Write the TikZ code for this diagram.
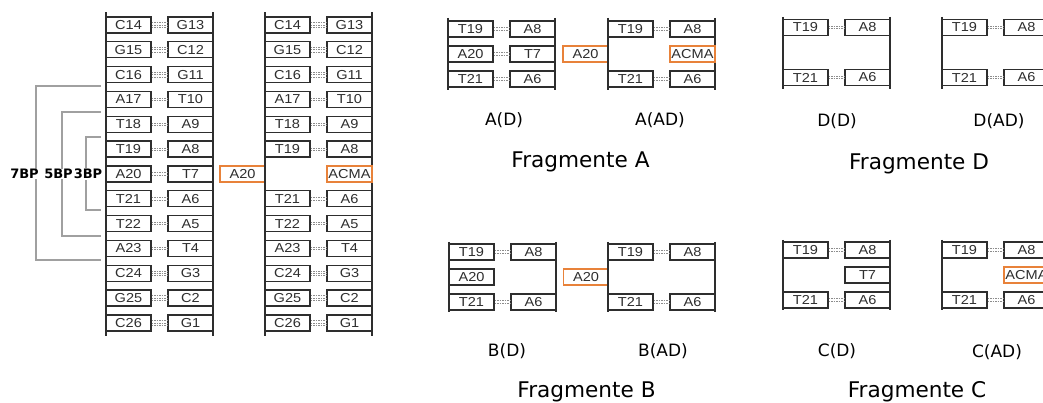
\documentclass[tikz,border=0pt]{standalone}
\usepackage{fontspec}
\setmainfont{DejaVu Sans}
\newfontfamily\basefont[FakeStretch=1.12]{Liberation Sans}

\definecolor{ink}{HTML}{2E2E2E}
\definecolor{hbond}{HTML}{8C8C8C}
\definecolor{acma}{HTML}{E8823A}
\definecolor{bracket}{HTML}{A0A0A0}

\tikzset{
  base/.style={draw=ink, line width=1.4pt, minimum width=45pt, minimum height=16pt,
    inner sep=0pt, text=ink, font=\basefont\fontsize{13}{15}\selectfont},
  modbase/.style={base, draw=acma, line width=1.5pt},
  hb/.style={draw=hbond, line width=0.7pt, dash pattern=on 1.5pt off 1pt},
  backbone/.style={draw=ink, line width=1.4pt},
  brk/.style={draw=bracket, line width=1.1pt},
  bplabel/.style={fill=white, inner sep=0.6pt, text=black, font=\bfseries\fontsize{13}{15}\selectfont},
  sublabel/.style={anchor=base, inner sep=0pt, text=black, font=\fontsize{17}{19}\selectfont},
  fraglabel/.style={anchor=base, inner sep=0pt, text=black, font=\fontsize{21.6}{24}\selectfont},
}

% A-T pair: name, backbone x, row y, left base, right base (two H-bonds)
\newcommand\pairAT[5]{%
  \node[base] (#1l) at ({#2+22.5},#3) {#4};
  \node[base] (#1r) at ({#2+84.5},#3) {#5};
  \draw[hb] ([yshift=1.2pt]#1l.east) -- ([yshift=1.2pt]#1r.west);
  \draw[hb] ([yshift=-1.2pt]#1l.east) -- ([yshift=-1.2pt]#1r.west);}
% C-G pair: three H-bonds
\newcommand\pairCG[5]{%
  \node[base] (#1l) at ({#2+22.5},#3) {#4};
  \node[base] (#1r) at ({#2+84.5},#3) {#5};
  \draw[hb] ([yshift=2.4pt]#1l.east) -- ([yshift=2.4pt]#1r.west);
  \draw[hb] (#1l.east) -- (#1r.west);
  \draw[hb] ([yshift=-2.4pt]#1l.east) -- ([yshift=-2.4pt]#1r.west);}
% two backbone strands: x, top, bottom
\newcommand\strands[3]{%
  \draw[backbone] (#1,#2) -- (#1,#3);
  \draw[backbone] ({#1+107},#2) -- ({#1+107},#3);}

\begin{document}
\begin{tikzpicture}[x=1pt,y=-1pt]
\path[use as bounding box, fill=white] (0,0) rectangle (1043,403);

% ---------- full duplex, undamaged ----------
\strands{106}{12.5}{335.5}
\pairCG{a14}{106}{25}{C14}{G13}
\pairCG{a15}{106}{49.8}{G15}{C12}
\pairCG{a16}{106}{74.7}{C16}{G11}
\pairAT{a17}{106}{99.5}{A17}{T10}
\pairAT{a18}{106}{124.3}{T18}{A9}
\pairAT{a19}{106}{149.2}{T19}{A8}
\pairAT{a20}{106}{174}{A20}{T7}
\pairAT{a21}{106}{198.8}{T21}{A6}
\pairAT{a22}{106}{223.6}{T22}{A5}
\pairAT{a23}{106}{248.5}{A23}{T4}
\pairCG{a24}{106}{273.3}{C24}{G3}
\pairCG{a25}{106}{298.1}{G25}{C2}
\pairCG{a26}{106}{323}{C26}{G1}

% removed base
\node[modbase] (mA20) at (242.5,174) {A20};

% ---------- full duplex with abasic site ----------
\strands{265}{12.5}{335.5}
\pairCG{b14}{265}{25}{C14}{G13}
\pairCG{b15}{265}{49.8}{G15}{C12}
\pairCG{b16}{265}{74.7}{C16}{G11}
\pairAT{b17}{265}{99.5}{A17}{T10}
\pairAT{b18}{265}{124.3}{T18}{A9}
\pairAT{b19}{265}{149.2}{T19}{A8}
\node[modbase] (bACMA) at (349.5,174) {ACMA};
\pairAT{b21}{265}{198.8}{T21}{A6}
\pairAT{b22}{265}{223.6}{T22}{A5}
\pairAT{b23}{265}{248.5}{A23}{T4}
\pairCG{b24}{265}{273.3}{C24}{G3}
\pairCG{b25}{265}{298.1}{G25}{C2}
\pairCG{b26}{265}{323}{C26}{G1}

% ---------- 3/5/7 bp brackets ----------
\coordinate (k7t) at (101,86);  \coordinate (k7b) at (101,260);
\coordinate (k5t) at (101,112); \coordinate (k5b) at (101,236);
\coordinate (k3t) at (101,137); \coordinate (k3b) at (101,210);
\draw[brk] (k7t) -- (36,86) -- (36,260) -- (k7b);
\draw[brk] (k5t) -- (62,112) -- (62,236) -- (k5b);
\draw[brk] (k3t) -- (86,137) -- (86,210) -- (k3b);
\node[bplabel] (l7) at (24.5,174) {7BP};
\node[bplabel] (l5) at (58.5,174) {5BP};
\node[bplabel] (l3) at (88,174) {3BP};

% ---------- Fragment A ----------
\strands{448}{18}{90}
\pairAT{fa19}{448}{29}{T19}{A8}
\pairAT{fa20}{448}{54}{A20}{T7}
\pairAT{fa21}{448}{79}{T21}{A6}
\node[modbase] (faA20) at (585.5,54) {A20};
\strands{608}{18}{90}
\pairAT{fb19}{608}{29}{T19}{A8}
\node[modbase] (fbACMA) at (692.5,54) {ACMA};
\pairAT{fb21}{608}{79}{T21}{A6}
\node[sublabel] (tAD) at (504,126) {A(D)};
\node[sublabel] (tAAD) at (660,126) {A(AD)};
\node[fraglabel] (tA) at (580.5,168) {Fragmente A};

% ---------- Fragment D ----------
\strands{783}{17}{89}
\pairAT{fd19}{783}{27.5}{T19}{A8}
\pairAT{fd21}{783}{77.5}{T21}{A6}
\strands{942}{17}{89}
\pairAT{fe19}{942}{27.5}{T19}{A8}
\pairAT{fe21}{942}{77.5}{T21}{A6}
\node[sublabel] (tDD) at (837,127) {D(D)};
\node[sublabel] (tDAD) at (999,127) {D(AD)};
\node[fraglabel] (tD) at (919,170) {Fragmente D};

% ---------- Fragment B ----------
\strands{449}{242}{312}
\pairAT{gb19}{449}{252}{T19}{A8}
\node[base] (gbA20) at (471.5,277) {A20};
\pairAT{gb21}{449}{302}{T21}{A6}
\node[modbase] (gmA20) at (586,277) {A20};
\strands{608}{242}{312}
\pairAT{hb19}{608}{252}{T19}{A8}
\pairAT{hb21}{608}{302}{T21}{A6}
\node[sublabel] (tBD) at (507,356) {B(D)};
\node[sublabel] (tBAD) at (663,356) {B(AD)};
\node[fraglabel] (tB) at (586.5,397) {Fragmente B};

% ---------- Fragment C ----------
\strands{783}{240}{310}
\pairAT{gc19}{783}{250}{T19}{A8}
\node[base] (gcT7) at (867.5,275) {T7};
\pairAT{gc21}{783}{300}{T21}{A6}
\strands{942}{240}{310}
\pairAT{hc19}{942}{250}{T19}{A8}
\node[modbase] (hcACMA) at (1026.5,275) {ACMA};
\pairAT{hc21}{942}{300}{T21}{A6}
\node[sublabel] (tCD) at (837,356) {C(D)};
\node[sublabel] (tCAD) at (997,357) {C(AD)};
\node[fraglabel] (tC) at (917,397) {Fragmente C};
\end{tikzpicture}
\end{document}
